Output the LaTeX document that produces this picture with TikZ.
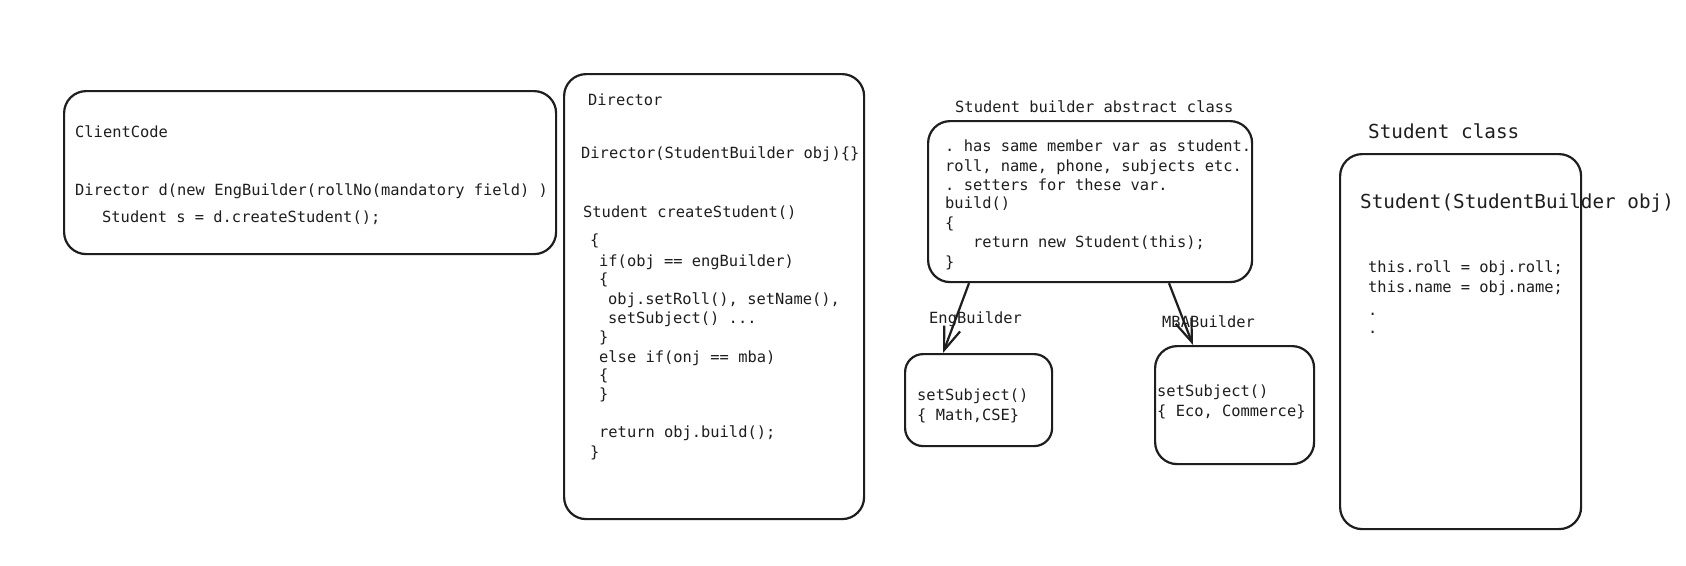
\documentclass[tikz,border=0pt]{standalone}
\usepackage{fontspec}
\setmonofont{DejaVu Sans Mono}
\usetikzlibrary{arrows.meta,calc}
\definecolor{ink}{HTML}{1E1E1E}
\begin{document}
\begin{tikzpicture}[x=1pt,y=-1pt,
 box/.style={draw=ink, line width=2.2pt, rounded corners=22pt, inner sep=0pt, anchor=north west},
 code/.style={font=\ttfamily\fontsize{15.4}{19}\selectfont, text=ink, inner sep=0pt, anchor=mid west, yshift=-3pt},
 big/.style={font=\ttfamily\fontsize{19.3}{23}\selectfont, text=ink, inner sep=0pt, anchor=mid west, yshift=-3pt},
 conn/.style={draw=ink, line width=2.2pt, -{Straight Barb[length=23pt,width=17pt,line width=2.2pt]}}]
\useasboundingbox[fill=white] (0,0) rectangle (1686,565);
% boxes
\node[box, minimum width=492pt, minimum height=163pt] (client) at (63,90) {};
\node[box, minimum width=300pt, minimum height=445pt] (director) at (563,73) {};
\node[box, minimum width=324pt, minimum height=161pt] (sb) at (927,120) {};
\node[box, minimum width=147pt, minimum height=92pt, rounded corners=18pt] (eng) at (904,353) {};
\node[box, minimum width=159pt, minimum height=118pt] (mba) at (1154,345) {};
\node[box, minimum width=241pt, minimum height=375pt] (student) at (1339,153) {};
% connectors
\draw[conn] ([xshift=42pt]sb.south west) -- ([xshift=39pt]eng.north west);
\draw[conn] ([xshift=242pt]sb.south west) -- ([xshift=39pt]mba.north west);
% client code
\node[code] (c1) at (75,132) {ClientCode};
\node[code] (c2) at (75,190) {Director d(new EngBuilder(rollNo(mandatory field) )};
\node[code] (c3) at (102,217) {Student s = d.createStudent();};
% director
\node[code] (d1) at (588,100) {Director};
\node[code] (d2) at (581,153) {Director(StudentBuilder obj)\{\}};
\node[code] (d3) at (583,212) {Student createStudent()};
\node[code] (d4) at (590,240) {\{};
\node[code] (d5) at (599,261) {if(obj == engBuilder)};
\node[code] (d6) at (599,279) {\{};
\node[code] (d7) at (608,299) {obj.setRoll(), setName(),};
\node[code] (d8) at (608,318) {setSubject() ...};
\node[code] (d9) at (599,337) {\}};
\node[code] (d10) at (599,357) {else if(onj == mba)};
\node[code] (d11) at (599,375) {\{};
\node[code] (d12) at (599,394) {\}};
\node[code] (d13) at (599,432) {return obj.build();};
\node[code] (d14) at (590,452) {\}};
% student builder
\node[code] (sbt) at (955,107) {Student builder abstract class};
\node[code] (s1) at (945,146) {. has same member var as student.};
\node[code] (s2) at (945,166) {roll, name, phone, subjects etc.};
\node[code] (s3) at (945,185) {. setters for these var.};
\node[code] (s4) at (945,203) {build()};
\node[code] (s5) at (945,223) {\{};
\node[code] (s6) at (973,242) {return new Student(this);};
\node[code] (s7) at (945,262) {\}};
% builders
\node[code] (engl) at (929,318) {EngBuilder};
\node[code] (mbal) at (1162,322) {MBABuilder};
\node[code] (e1) at (917,395) {setSubject()};
\node[code] (e2) at (917,415) {\{ Math,CSE\}};
\node[code] (m1) at (1157,391) {setSubject()};
\node[code] (m2) at (1157,411) {\{ Eco, Commerce\}};
% student class
\node[big] (stt) at (1368,133) {Student class};
\node[big] (st1) at (1360,203) {Student(StudentBuilder obj)};
\node[code] (st2) at (1368,267) {this.roll = obj.roll;};
\node[code] (st3) at (1368,287) {this.name = obj.name;};
\node[code] (st4) at (1368,310) {.};
\node[code] (st5) at (1368,328) {.};
\end{tikzpicture}
\end{document}
